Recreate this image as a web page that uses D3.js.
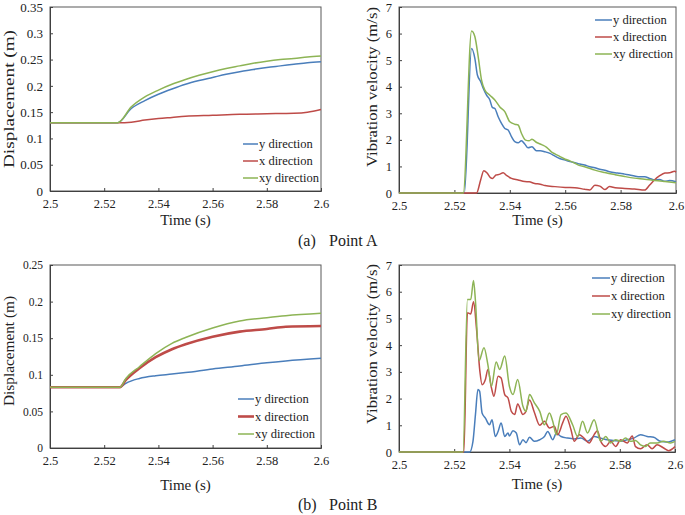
<!DOCTYPE html>
<html lang="en">
<head>
    <meta charset="UTF-8">
    <title>Displacement and vibration velocity</title>
    <script src="https://cdn.jsdelivr.net/npm/d3@7"></script>
    <style>
        body { margin: 0; background: #fff; }
        text { font-family: "Liberation Serif", "Times New Roman", serif; fill: #222; }
    </style>
</head>
<body>
<script>
    // series names and colours
    var seriesNames = ["y direction", "x direction", "xy direction"];
    var seriesColors = ["#4a7ebb", "#be4b48", "#8db455"];

    var timeTicks = [2.5, 2.52, 2.54, 2.56, 2.58, 2.6];
    var dispTicksA = [0, 0.05, 0.1, 0.15, 0.2, 0.25, 0.3, 0.35];
    var dispTicksB = [0, 0.05, 0.1, 0.15, 0.2, 0.25];
    var velTicks = [0, 1, 2, 3, 4, 5, 6, 7];

    // Point A - displacement (m)
    var aDispY = [[2.5,0.13],[2.525,0.13],[2.53,0.157],[2.535,0.172],[2.54,0.184],[2.545,0.194],[2.55,0.203],[2.555,0.21],[2.56,0.216],[2.565,0.222],[2.57,0.227],[2.575,0.231],[2.58,0.235],[2.585,0.238],[2.59,0.241],[2.595,0.244],[2.6,0.246]];
    var aDispX = [[2.5,0.13],[2.525,0.13],[2.53,0.131],[2.535,0.135],[2.54,0.138],[2.545,0.14],[2.55,0.142],[2.56,0.144],[2.57,0.146],[2.58,0.147],[2.59,0.148],[2.595,0.15],[2.6,0.155]];
    var aDispXY = [[2.5,0.13],[2.525,0.13],[2.53,0.16],[2.535,0.179],[2.54,0.192],[2.545,0.203],[2.55,0.212],[2.555,0.22],[2.56,0.227],[2.565,0.233],[2.57,0.238],[2.575,0.243],[2.58,0.247],[2.585,0.25],[2.59,0.252],[2.595,0.255],[2.6,0.257]];

    // Point A - vibration velocity (m/s)
    var aVelY = [[2.5,0],[2.5236,0],[2.5262,5.44],[2.5274,5.06],[2.5283,4.44],[2.5295,4.19],[2.5304,3.94],[2.5316,3.68],[2.5328,3.5],[2.5337,3.22],[2.5346,3.18],[2.5358,2.87],[2.537,2.62],[2.5382,2.43],[2.5394,2.37],[2.5406,2.12],[2.5418,1.93],[2.543,1.89],[2.5442,1.97],[2.5454,1.84],[2.5466,1.7],[2.548,1.74],[2.5496,1.59],[2.551,1.59],[2.5527,1.55],[2.5545,1.49],[2.5563,1.39],[2.558,1.3],[2.56,1.24],[2.5617,1.18],[2.5635,1.14],[2.5653,1.09],[2.567,1.05],[2.5689,0.99],[2.5707,0.95],[2.5725,0.89],[2.5743,0.86],[2.576,0.8],[2.578,0.76],[2.5797,0.74],[2.5815,0.71],[2.5833,0.68],[2.585,0.64],[2.587,0.61],[2.5887,0.61],[2.5905,0.55],[2.5923,0.49],[2.594,0.51],[2.596,0.44],[2.5977,0.47],[2.6,0.42]];
    var aVelX = [[2.5,0],[2.528,0],[2.5295,0.5],[2.5306,0.84],[2.5318,0.75],[2.533,0.58],[2.5338,0.55],[2.535,0.68],[2.5362,0.7],[2.5376,0.76],[2.5388,0.66],[2.5406,0.55],[2.543,0.49],[2.5454,0.43],[2.547,0.42],[2.549,0.36],[2.551,0.33],[2.5527,0.28],[2.5563,0.24],[2.56,0.21],[2.5635,0.2],[2.567,0.14],[2.5689,0.11],[2.5707,0.29],[2.5725,0.26],[2.5743,0.13],[2.576,0.24],[2.578,0.2],[2.5815,0.17],[2.585,0.15],[2.5887,0.11],[2.5905,0.3],[2.5923,0.5],[2.594,0.64],[2.596,0.75],[2.5977,0.76],[2.5995,0.82],[2.6,0.78]];
    var aVelXY = [[2.5,0],[2.5232,0],[2.5262,6.1],[2.5274,5.88],[2.5286,5.12],[2.5298,4.25],[2.531,3.87],[2.5328,3.68],[2.5346,3.5],[2.5364,3.24],[2.5382,3.06],[2.54,2.68],[2.5418,2.59],[2.543,2.56],[2.5442,2.25],[2.5457,1.99],[2.547,1.97],[2.548,2.02],[2.5497,1.9],[2.5515,1.82],[2.5533,1.72],[2.555,1.55],[2.5563,1.47],[2.558,1.38],[2.56,1.27],[2.5617,1.21],[2.5635,1.12],[2.5653,1.03],[2.567,0.99],[2.5707,0.86],[2.5743,0.77],[2.578,0.69],[2.5815,0.62],[2.585,0.56],[2.5887,0.52],[2.5923,0.47],[2.596,0.43],[2.6,0.39]];

    // Point B - displacement (m)
    var bDispY = [[2.5,0.083],[2.5258,0.083],[2.528,0.0884],[2.533,0.095],[2.539,0.0988],[2.545,0.101],[2.55,0.103],[2.56,0.108],[2.57,0.112],[2.58,0.1165],[2.587,0.119],[2.6,0.1225]];
    var bDispX = [[2.5,0.083],[2.5258,0.083],[2.528,0.093],[2.533,0.109],[2.539,0.124],[2.545,0.135],[2.55,0.1417],[2.56,0.152],[2.57,0.159],[2.58,0.1626],[2.587,0.1657],[2.6,0.1667]];
    var bDispXY = [[2.5,0.083],[2.5258,0.083],[2.528,0.095],[2.533,0.111],[2.539,0.129],[2.545,0.143],[2.55,0.151],[2.56,0.164],[2.57,0.1735],[2.58,0.178],[2.587,0.1807],[2.6,0.184]];

    // Point B - vibration velocity (m/s)
    var bVelY = [[2.5,0],[2.5256,0],[2.5268,0.4],[2.5277,1.4],[2.5286,2.34],[2.5292,2.28],[2.5301,1.46],[2.5313,1.27],[2.5328,1.02],[2.5337,1.21],[2.5349,0.58],[2.5359,0.77],[2.537,1.09],[2.5383,0.58],[2.5395,0.71],[2.54,0.6],[2.5413,0.8],[2.5425,0.71],[2.5437,0.27],[2.5449,0.46],[2.546,0.35],[2.5473,0.55],[2.549,0.4],[2.551,0.46],[2.5527,0.58],[2.5539,0.77],[2.5557,0.46],[2.557,0.7],[2.5587,0.58],[2.5611,0.52],[2.5635,0.49],[2.5659,0.52],[2.5683,0.4],[2.5707,0.58],[2.5731,0.52],[2.5755,0.46],[2.5779,0.43],[2.5803,0.4],[2.5827,0.46],[2.5851,0.52],[2.5875,0.65],[2.5899,0.58],[2.5923,0.55],[2.5947,0.4],[2.5971,0.37],[2.6,0.46]];
    var bVelX = [[2.5,0],[2.5235,0],[2.5248,5.21],[2.526,5.17],[2.527,5.62],[2.5281,4.59],[2.5293,3.02],[2.5301,2.52],[2.5313,2.71],[2.5322,3.09],[2.5335,2.4],[2.5344,2.09],[2.5359,2.84],[2.537,2.77],[2.5383,2.15],[2.5395,2.02],[2.5407,1.52],[2.5419,1.4],[2.543,1.8],[2.5449,1.4],[2.546,1.52],[2.5473,1.95],[2.549,1.5],[2.551,1.0],[2.5527,1.15],[2.5545,0.9],[2.5563,0.96],[2.5575,0.65],[2.5593,1.09],[2.5605,1.34],[2.5623,0.84],[2.5635,0.4],[2.5653,0.65],[2.567,0.52],[2.5689,0.34],[2.5707,0.65],[2.5719,0.8],[2.5731,0.4],[2.5749,0.21],[2.5767,0.4],[2.5785,0.21],[2.5803,0.46],[2.5827,0.34],[2.5845,0.6],[2.5857,0.2],[2.5875,0.12],[2.5899,0.27],[2.5917,0.12],[2.5935,0.27],[2.5959,0.15],[2.5977,0.05],[2.6,0.2]];
    var bVelXY = [[2.5,0],[2.5232,0],[2.5248,5.71],[2.526,5.71],[2.527,6.42],[2.5277,5.65],[2.529,3.42],[2.5308,3.9],[2.5322,3.27],[2.5335,2.46],[2.5352,3.37],[2.5365,3.09],[2.5383,3.59],[2.54,2.46],[2.5413,2.15],[2.543,2.71],[2.5449,1.71],[2.546,1.52],[2.5473,2.15],[2.549,1.85],[2.551,1.52],[2.5527,1.02],[2.5545,1.46],[2.5557,1.15],[2.557,0.65],[2.5587,1.4],[2.5605,1.46],[2.5629,1.02],[2.5647,0.58],[2.5665,1.15],[2.5683,0.71],[2.5707,1.21],[2.5731,0.4],[2.5749,0.58],[2.5767,0.34],[2.5785,0.46],[2.5803,0.4],[2.5821,0.52],[2.5839,0.4],[2.5857,0.43],[2.5875,0.27],[2.5893,0.21],[2.591,0.34],[2.5935,0.34],[2.5959,0.4],[2.5983,0.34],[2.6,0.4]];

    var svg = d3.select("body").append("svg")
        .attr("width", 685)
        .attr("height", 515);

    var fmt = function(d) { return +d.toFixed(2); };

    function drawPanel(p) {
        var x = d3.scaleLinear().domain([2.5, 2.6]).range([p.left, p.right]);
        var y = d3.scaleLinear().domain([0, p.yMax]).range([p.bottom, p.top]);
        var g = svg.append("g");

        // frame
        g.append("rect")
            .attr("x", p.left).attr("y", p.top)
            .attr("width", p.right - p.left).attr("height", p.bottom - p.top)
            .attr("fill", "none").attr("stroke", "#595959").attr("stroke-width", 1);

        // y-axis
        var ya = g.append("g")
            .attr("transform", "translate(" + p.left + ",0)")
            .call(d3.axisLeft(y).tickValues(p.yTicks).tickFormat(fmt).tickSize(-3).tickPadding(7));
        ya.select(".domain").attr("stroke", "#404040");
        ya.selectAll(".tick line").attr("stroke", "#404040");
        ya.selectAll("text").style("font-family", "Liberation Serif").style("font-size", p.tickFont + "px").attr("fill", "#222");

        // x-axis
        var xa = g.append("g")
            .attr("transform", "translate(0," + p.bottom + ")")
            .call(d3.axisBottom(x).tickValues(timeTicks).tickFormat(fmt).tickSize(-3).tickPadding(8));
        xa.select(".domain").attr("stroke", "#404040");
        xa.selectAll(".tick line").attr("stroke", "#404040");
        xa.selectAll("text").style("font-family", "Liberation Serif").style("font-size", "12.5px").attr("fill", "#222");

        // lines
        var line = d3.line()
            .x(function(d) { return x(d[0]); })
            .y(function(d) { return y(d[1]); })
            .curve(d3.curveMonotoneX);
        p.series.forEach(function(s, i) {
            g.append("path")
                .datum(s)
                .attr("fill", "none")
                .attr("stroke", seriesColors[i])
                .attr("stroke-width", p.widths[i])
                .attr("stroke-linejoin", "round")
                .attr("d", line);
        });

        // legend
        seriesNames.forEach(function(name, i) {
            var ly = p.legY + i * p.legStep;
            g.append("line")
                .attr("x1", p.legX).attr("x2", p.legX + p.legLen)
                .attr("y1", ly).attr("y2", ly)
                .attr("stroke", seriesColors[i]).attr("stroke-width", p.widths[i]);
            g.append("text")
                .attr("x", p.legX + p.legLen + 1).attr("y", ly + 4)
                .style("font-size", "12.5px")
                .text(name);
        });

        // axis titles
        g.append("text")
            .attr("x", (p.left + p.right) / 2)
            .attr("y", p.bottom + p.titleGap)
            .attr("text-anchor", "middle")
            .style("font-size", "15px")
            .text("Time (s)");

        g.append("text")
            .attr("transform", "translate(" + p.yLabX + "," + p.yLabY + ") rotate(-90)")
            .attr("text-anchor", "middle")
            .attr("textLength", p.yLabLen)
            .attr("lengthAdjust", "spacingAndGlyphs")
            .style("font-size", "15px")
            .text(p.yLabel);
    }

    drawPanel({left: 50, right: 321, top: 7, bottom: 191, yMax: 0.35, yTicks: dispTicksA, tickFont: 13,
        series: [aDispY, aDispX, aDispXY], widths: [1.5, 1.5, 1.5], titleGap: 34,
        legX: 243, legLen: 15, legY: 144, legStep: 17,
        yLabel: "Displacement (m)", yLabX: 14, yLabY: 99, yLabLen: 138});

    drawPanel({left: 399, right: 676, top: 7, bottom: 193, yMax: 7, yTicks: velTicks, tickFont: 12.5,
        series: [aVelY, aVelX, aVelXY], widths: [1.5, 1.5, 1.5], titleGap: 32,
        legX: 595, legLen: 17, legY: 20, legStep: 17,
        yLabel: "Vibration velocity (m/s)", yLabX: 377, yLabY: 87, yLabLen: 160});

    drawPanel({left: 50, right: 321, top: 265, bottom: 448, yMax: 0.25, yTicks: dispTicksB, tickFont: 11.5,
        series: [bDispY, bDispX, bDispXY], widths: [1.5, 2.6, 1.5], titleGap: 42,
        legX: 238, legLen: 16, legY: 399, legStep: 17.5,
        yLabel: "Displacement (m)", yLabX: 14, yLabY: 351, yLabLen: 110});

    drawPanel({left: 399, right: 675, top: 265, bottom: 452, yMax: 7, yTicks: velTicks, tickFont: 12.5,
        series: [bVelY, bVelX, bVelXY], widths: [1.5, 1.5, 1.5], titleGap: 37,
        legX: 592, legLen: 18, legY: 278, legStep: 18,
        yLabel: "Vibration velocity (m/s)", yLabX: 377, yLabY: 344, yLabLen: 160});

    // captions
    var captions = [["(a)", "Point A", 246], ["(b)", "Point B", 510]];
    captions.forEach(function(c) {
        svg.append("text").attr("x", 298).attr("y", c[2]).style("font-size", "16px").text(c[0]);
        svg.append("text").attr("x", 329).attr("y", c[2]).style("font-size", "16px").text(c[1]);
    });
</script>
</body>
</html>
